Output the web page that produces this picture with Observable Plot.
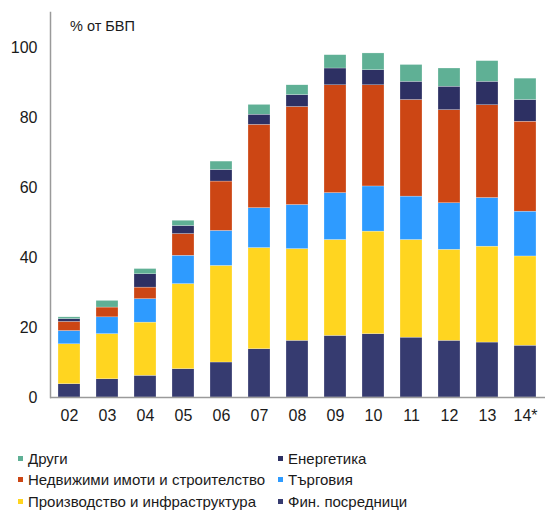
<!DOCTYPE html>
<html>
<head>
<meta charset="utf-8">
<script src="https://cdn.jsdelivr.net/npm/d3@7"></script>
<script src="https://cdn.jsdelivr.net/npm/@observablehq/plot@0.6"></script>
<style>
  body { margin: 0; background: #fff; font-family: "Liberation Sans Narrow", "Liberation Sans", Arial, sans-serif; }
  #wrap { position: relative; width: 545px; height: 513px; }
  #legend { position: absolute; left: 18px; top: 448px; display: grid; grid-template-columns: 260px 260px; row-gap: 1px; font-size: 15px; color: #1a1a1a; }
  .item { display: flex; align-items: center; height: 20.5px; white-space: nowrap; }
  .sw { width: 5px; height: 5px; margin-right: 5px; flex: none; }
  #unit { position: absolute; left: 70px; top: 18px; font-size: 14.5px; color: #1a1a1a; }
</style>
</head>
<body>
<div id="wrap">
  <div id="chart"></div>
  <div id="unit">% от БВП</div>
  <div id="legend"></div>
</div>
<script>
const years = ["02","03","04","05","06","07","08","09","10","11","12","13","14*"];
const seriesNames = ["Фин. посредници","Производство и инфраструктура","Търговия","Недвижими имоти и строителство","Енергетика","Други"];
const seriesColors = ["#363b70","#ffd520","#2e9bff","#cc4614","#2d3063","#5fb095"];
// segment values (% of GDP), bottom to top
const fin      = [3.8, 5.2, 6.2, 8.1, 10.0, 13.8, 16.2, 17.6, 18.1, 17.1, 16.2, 15.7, 14.8];
const prod     = [11.4, 12.9, 15.2, 24.3, 27.6, 28.9, 26.2, 27.4, 29.3, 27.9, 26.0, 27.4, 25.5];
const trade    = [3.8, 4.8, 6.7, 8.1, 10.0, 11.4, 12.6, 13.4, 12.9, 12.4, 13.3, 13.9, 12.8];
const realty   = [2.6, 2.8, 3.3, 6.2, 14.1, 23.8, 28.0, 30.8, 28.9, 27.6, 26.6, 26.5, 25.7];
const energy   = [0.8, 0.0, 3.8, 2.3, 3.3, 2.9, 3.4, 4.8, 4.3, 5.2, 6.7, 6.7, 6.2];
const other    = [0.5, 1.9, 1.5, 1.5, 2.4, 2.8, 2.8, 3.8, 4.8, 4.8, 5.2, 5.9, 6.1];
const yTicks = [0, 20, 40, 60, 80, 100];

const seriesValues = [fin, prod, trade, realty, energy, other];
const data = [];
seriesNames.forEach((name, i) => {
  years.forEach((yr, j) => data.push({year: yr, series: name, value: seriesValues[i][j]}));
});

const chart = Plot.plot({
  width: 545,
  height: 430,
  marginLeft: 50,
  marginRight: 0,
  marginTop: 12,
  marginBottom: 33,
  style: {fontFamily: "'Liberation Sans Narrow', 'Liberation Sans', Arial, sans-serif", fontSize: "16px", color: "#1a1a1a"},
  x: {domain: years, padding: 0.42, paddingOuter: 0.2, label: null},
  y: {domain: [0, 110], label: null},
  color: {domain: seriesNames, range: seriesColors},
  marks: [
    Plot.barY(data, {x: "year", y: "value", fill: "series", stroke: "#ffffff", strokeWidth: 0.4, strokeOpacity: 0.6}),
    Plot.axisY({ticks: yTicks, tickSize: 0, tickPadding: 13, fontSize: 16}),
    Plot.axisX({tickSize: 0, tickPadding: 12, fontSize: 16}),
    Plot.ruleY([0], {stroke: "#9a9a9a", strokeWidth: 1.5}),
    Plot.frame({anchor: "left", stroke: "#9a9a9a", strokeWidth: 1.5})
  ]
});
document.getElementById("chart").appendChild(chart);

const legendOrder = [5, 4, 3, 2, 1, 0];
const legend = document.getElementById("legend");
legendOrder.forEach(i => {
  const d = document.createElement("div");
  d.className = "item";
  d.innerHTML = `<span class="sw" style="background:${seriesColors[i]}"></span><span>${seriesNames[i]}</span>`;
  legend.appendChild(d);
});
</script>
</body>
</html>
